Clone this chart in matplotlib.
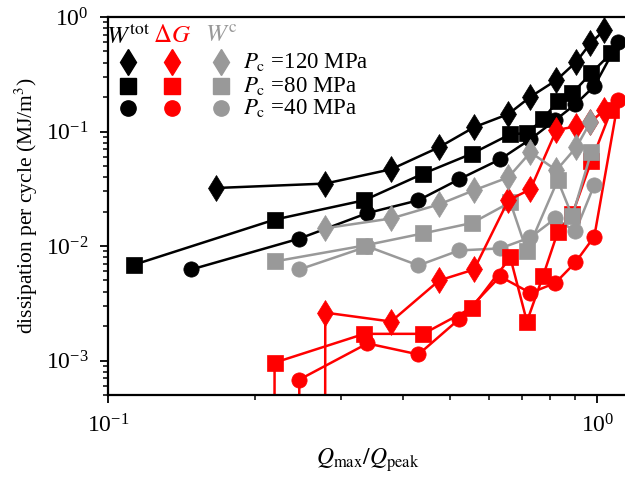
import numpy as np
import matplotlib
matplotlib.use('Agg')
import matplotlib.pyplot as plt

plt.rcParams['font.family'] = 'serif'
plt.rcParams['font.serif'] = ['Liberation Serif', 'DejaVu Serif']
plt.rcParams['mathtext.fontset'] = 'stix'

# Q_max/Q_peak para cada presion de confinamiento
x120 = [0.166, 0.278, 0.379, 0.475, 0.560, 0.658, 0.730, 0.825, 0.906, 0.968, 1.034]
x80 = [0.113, 0.219, 0.334, 0.441, 0.555, 0.664, 0.718, 0.774, 0.830, 0.889, 0.972, 1.068]
x40 = [0.148, 0.246, 0.339, 0.431, 0.522, 0.633, 0.730, 0.821, 0.902, 0.986, 1.104]

# disipacion por ciclo (MJ/m^3): W_tot, delta G, W_c  (0 = valor no positivo)
wtot120 = [0.0321, 0.0351, 0.0468, 0.0729, 0.109, 0.142, 0.201, 0.281, 0.406, 0.589, 0.770]
dg120 = [0, 0.00262, 0.00219, 0.00500, 0.00624, 0.0251, 0.0313, 0.103, 0.111, 0.121, 0.154]
wc120 = [np.nan, 0.0143, 0.0174, 0.0231, 0.0307, 0.0398, 0.0659, 0.0459, 0.0729, 0.121, np.nan]

wtot80 = [0.00686, 0.0170, 0.0251, 0.0429, 0.0642, 0.0947, 0.0966, 0.128, 0.184, 0.216, 0.324, 0.484]
dg80 = [0, 0.000958, 0.00171, 0.00171, 0.00290, 0.00795, 0.00219, 0.00542, 0.0132, 0.0189, 0.0550, 0.154]
wc80 = [np.nan, 0.00733, 0.0101, 0.0129, 0.0159, 0.0241, 0.00897, np.nan, 0.0375, 0.0182, 0.0659, np.nan]

wtot40 = [0.00624, 0.0116, 0.0194, 0.0251, 0.0383, 0.0572, 0.0856, 0.126, 0.173, 0.249, 0.604]
dg40 = [0, 0.000681, 0.00141, 0.00113, 0.00230, 0.00542, 0.00389, 0.00476, 0.00719, 0.0121, 0.188]
wc40 = [np.nan, 0.00624, 0.00992, 0.00677, 0.00915, 0.00953, 0.0119, 0.0174, 0.0134, 0.0342, np.nan]

presiones = ['120', '80', '40']
rojo = '#ff0000'
gris = '#999999'

fig = plt.figure(figsize=(6.25, 4.86), dpi=100)
ax = fig.add_axes([108 / 625, 91 / 486, 519 / 625, 378 / 486])
ax.set_xscale('log')
ax.set_yscale('log')

grupos = [(x40, wtot40, dg40, wc40, 'o', 11),
          (x80, wtot80, dg80, wc80, 's', 11),
          (x120, wtot120, dg120, wc120, 'd', 13)]

for x, wt, dg, wc, m, ms in grupos:
    for y, c in [(wt, 'k'), (dg, rojo), (wc, gris)]:
        xa = np.array(x)
        ya = np.array(y, dtype=float)
        ok = np.isfinite(ya)
        ax.plot(xa[ok], ya[ok], color=c, marker=m, ms=ms, mec=c, mew=0.5, lw=1.8)

ax.set_xlim(0.1, 1.15)
ax.set_ylim(5e-4, 1)

for s in ['left', 'bottom', 'top']:
    ax.spines[s].set_linewidth(1.6)
ax.spines['right'].set_visible(False)
ax.tick_params(which='major', direction='out', length=6, width=1.3, labelsize=17, pad=8)
ax.tick_params(which='minor', direction='out', length=3.5, width=1.1)
ax.tick_params(top=False, right=False, which='both')

ax.set_xlabel(r'$Q_{\rm max}/Q_{\rm peak}$', fontsize=17, labelpad=6)
ax.set_ylabel(r'dissipation per cycle (MJ/m$^3$)', fontsize=15.5, labelpad=4)

# leyenda manual: columnas W_tot / dG / W_c, filas por presion
cols = [(0.038, 'k', r'$W^{\rm tot}$'), (0.123, rojo, r'$\Delta G$'), (0.2175, gris, r'$W^{\rm c}$')]
filas = [('d', 0.882, 13), ('s', 0.8175, 11), ('o', 0.7585, 11)]
for cx, c, h in cols:
    ax.text(cx, 0.95, h, color=c, fontsize=18, ha='center', va='center', transform=ax.transAxes)
    for m, fy, ms in filas:
        ax.plot([cx], [fy], marker=m, ms=ms, color=c, mec=c, transform=ax.transAxes, clip_on=False)
for (m, fy, ms), p in zip(filas, presiones):
    ax.text(0.26, fy, r'$P_{\rm c}$ =' + p + ' MPa', fontsize=16.5, va='center', ha='left',
            transform=ax.transAxes)

fig.savefig('out.png', dpi=100)
